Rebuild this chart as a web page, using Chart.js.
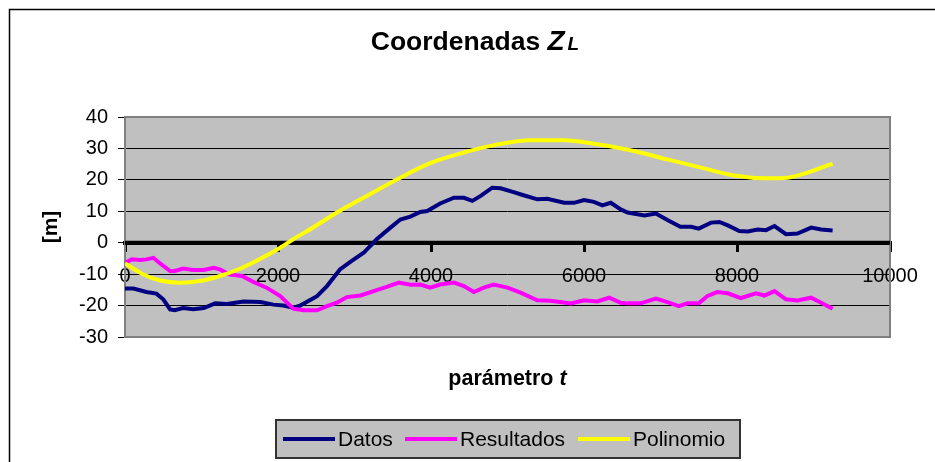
<!DOCTYPE html>
<html><head><meta charset="utf-8">
<script src="https://cdn.jsdelivr.net/npm/chart.js@4/dist/chart.umd.min.js"></script>
<style>html,body{margin:0;padding:0;background:#fff}#wrap{width:935px;height:462px;position:relative}</style>
</head><body><div id="wrap"><canvas id="c" width="935" height="462"></canvas></div>
<script>
const FONT = '"Liberation Sans", Arial, Helvetica, sans-serif';

const seriesNames = ['Datos', 'Resultados', 'Polinomio'];
const xTicks = [0, 2000, 4000, 6000, 8000, 10000];
const yTicks = [-30, -20, -10, 0, 10, 20, 30, 40];

const tDatos = [0,110,280,410,500,590,650,760,890,1030,1180,1330,1550,1770,1940,2070,2200,2290,2510,2640,2810,2950,3120,3290,3470,3600,3730,3860,3950,4120,4300,4430,4540,4650,4800,4910,5080,5210,5390,5520,5740,5870,6000,6130,6240,6350,6480,6570,6790,6940,7090,7260,7400,7500,7660,7770,7880,8030,8140,8270,8380,8490,8640,8790,8970,9100,9250];
const vDatos = [-14.6,-14.6,-15.7,-16.2,-18,-21.2,-21.5,-20.8,-21.2,-20.8,-19.3,-19.5,-18.7,-18.9,-19.7,-20,-20.7,-20,-17,-13.8,-8.5,-6,-3.2,1.1,4.8,7.4,8.3,9.8,10.1,12.5,14.3,14.3,13.3,14.9,17.5,17.3,16.1,15.1,13.8,14,12.7,12.7,13.6,13,11.9,12.7,10.6,9.6,8.7,9.3,7.2,5.1,5.1,4.5,6.4,6.6,5.5,3.7,3.6,4.2,4,5.3,2.7,2.9,4.8,4.2,3.9];

const tResultados = [0,90,200,280,370,460,590,650,760,890,1030,1160,1240,1370,1530,1680,1850,2030,2200,2330,2510,2640,2770,2900,3080,3250,3430,3580,3730,3860,3990,4120,4300,4430,4560,4690,4820,5000,5170,5390,5560,5830,6000,6170,6330,6480,6570,6740,6940,7090,7240,7350,7500,7610,7740,7880,8050,8250,8360,8490,8640,8790,8970,9100,9250];
const vResultados = [-6.4,-5.3,-5.5,-5.3,-4.8,-6.6,-9,-9,-8.2,-8.7,-8.7,-8,-8.5,-10.1,-10.6,-12.5,-14.3,-17,-21,-21.5,-21.5,-20.2,-19.1,-17.3,-16.8,-15.4,-14,-12.7,-13.4,-13.3,-14.3,-13.3,-12.7,-13.8,-15.7,-14.3,-13.3,-14.3,-15.9,-18.3,-18.5,-19.3,-18.3,-18.7,-17.5,-19.1,-19.3,-19.3,-17.8,-18.9,-20.2,-19.3,-19.3,-17,-15.7,-16.1,-17.6,-16.1,-16.8,-15.4,-18,-18.4,-17.5,-19.1,-21];

const tPolinomio = [0,240,460,720,980,1240,1510,1770,2030,2200,2470,2770,3080,3560,3990,4430,4870,5300,5740,6170,6650,7090,7530,7960,8400,8660,8920,9250];
const vPolinomio = [-6.6,-10.1,-12,-12.7,-12.2,-10.6,-8.2,-5.1,-1.6,1.1,5,9.6,13.8,20.2,25.3,28.7,31.3,32.6,32.6,31.3,29.2,26.5,23.9,21.4,20.5,20.7,22.3,25.2];

const colors = ['#000080', '#ff00ff', '#ffff00'];

function pts(ts, vs) { return ts.map((t, i) => ({ x: t, y: vs[i] })); }

const deco = {
  id: 'deco',
  beforeDraw(chart) {
    const ctx = chart.ctx, a = chart.chartArea;
    ctx.save();
    ctx.fillStyle = '#fff';
    ctx.fillRect(0, 0, chart.width, chart.height);
    ctx.strokeStyle = '#000';
    ctx.lineWidth = 1.5;
    ctx.beginPath();
    ctx.moveTo(9.5, chart.height);
    ctx.lineTo(9.5, 9.5);
    ctx.lineTo(chart.width, 9.5);
    ctx.stroke();
    ctx.fillStyle = '#c0c0c0';
    ctx.fillRect(a.left, a.top, a.right - a.left, a.bottom - a.top);
    ctx.restore();
  },
  beforeDatasetsDraw(chart) {
    const ctx = chart.ctx, a = chart.chartArea;
    ctx.save();
    ctx.strokeStyle = '#808080';
    ctx.lineWidth = 2;
    ctx.strokeRect(a.left, a.top, a.right - a.left, a.bottom - a.top);
    const y0 = chart.scales.y.getPixelForValue(0);
    ctx.strokeStyle = '#000';
    ctx.lineWidth = 4;
    ctx.beginPath();
    ctx.moveTo(a.left, y0);
    ctx.lineTo(a.right, y0);
    ctx.stroke();
    ctx.restore();
  },
  afterDraw(chart) {
    const ctx = chart.ctx, a = chart.chartArea;
    ctx.save();
    ctx.fillStyle = '#000';
    ctx.textBaseline = 'alphabetic';
    // Title
    const p1 = 'Coordenadas ', p2 = 'Z', p3 = 'L';
    const f1 = 'bold 26.5px ' + FONT, f2 = 'italic bold 28px ' + FONT, f3 = 'italic bold 19px ' + FONT;
    ctx.font = f1; const w1 = ctx.measureText(p1).width;
    ctx.font = f2; const w2 = ctx.measureText(p2).width;
    ctx.font = f3; const w3 = ctx.measureText(p3).width;
    let x = 475 - (w1 + w2 + 3 + w3) / 2;
    const by = 50;
    ctx.font = f1; ctx.textAlign = 'left'; ctx.fillText(p1, x, by); x += w1;
    ctx.font = f2; ctx.fillText(p2, x, by); x += w2 + 3;
    ctx.font = f3; ctx.fillText(p3, x, by);

    // X axis title
    const q1 = 'parámetro ', q2 = 't';
    const g1 = 'bold 21.5px ' + FONT, g2 = 'italic bold 21.5px ' + FONT;
    ctx.font = g1; const v1 = ctx.measureText(q1).width;
    ctx.font = g2; const v2 = ctx.measureText(q2).width;
    let xx = (a.left + a.right) / 2 - (v1 + v2) / 2;
    ctx.font = g1; ctx.fillText(q1, xx, 385);
    ctx.font = g2; ctx.fillText(q2, xx + v1, 385);

    // Y axis title
    ctx.save();
    ctx.translate(51, 227);
    ctx.rotate(-Math.PI / 2);
    ctx.font = 'bold 21px ' + FONT;
    ctx.textAlign = 'center';
    ctx.textBaseline = 'middle';
    ctx.fillText('[m]', 0, 0);
    ctx.restore();

    // Legend
    const L = { x: 276, y: 420, w: 464, h: 38 };
    ctx.fillStyle = '#c0c0c0';
    ctx.fillRect(L.x, L.y, L.w, L.h);
    ctx.strokeStyle = '#333';
    ctx.lineWidth = 2;
    ctx.strokeRect(L.x, L.y, L.w, L.h);
    const items = chart.data.datasets;
    const lineX = [283, 405, 578];
    const cy = L.y + L.h / 2;
    ctx.font = '21px ' + FONT;
    ctx.textBaseline = 'middle';
    ctx.textAlign = 'left';
    items.forEach((d, i) => {
      ctx.strokeStyle = d.borderColor;
      ctx.lineWidth = 4;
      ctx.beginPath();
      ctx.moveTo(lineX[i], cy);
      ctx.lineTo(lineX[i] + 52, cy);
      ctx.stroke();
      ctx.fillStyle = '#000';
      ctx.fillText(d.label, lineX[i] + 55, cy + 1);
    });
    ctx.restore();
  }
};

new Chart(document.getElementById('c'), {
  type: 'line',
  data: {
    datasets: [
      { label: seriesNames[0], data: pts(tDatos, vDatos), borderColor: colors[0], borderWidth: 4, pointRadius: 0, tension: 0, order: 2 },
      { label: seriesNames[1], data: pts(tResultados, vResultados), borderColor: colors[1], borderWidth: 4, pointRadius: 0, tension: 0, order: 1 },
      { label: seriesNames[2], data: pts(tPolinomio, vPolinomio), borderColor: colors[2], borderWidth: 4, pointRadius: 0, tension: 0.4, cubicInterpolationMode: 'monotone', order: 0 }
    ]
  },
  options: {
    responsive: false,
    devicePixelRatio: 1,
    animation: false,
    layout: { padding: { left: 0, top: 117, right: 45, bottom: 125 } },
    plugins: { legend: { display: false }, title: { display: false }, tooltip: { enabled: false } },
    scales: {
      x: {
        type: 'linear', min: 0, max: 10000,
        position: { y: 0 },
        afterFit: s => { s.height = 0; },
        afterBuildTicks: s => { s.ticks = xTicks.map(v => ({ value: v })); },
        grid: { drawOnChartArea: false, drawTicks: true, tickLength: 7, color: '#000', lineWidth: 3 },
        border: { display: true, color: '#000', width: 4 },
        ticks: { font: { family: FONT, size: 20 }, color: '#000', padding: 15, maxRotation: 0, autoSkip: false, callback: v => String(v) }
      },
      y: {
        type: 'linear', min: -30, max: 40,
        afterFit: s => { s.width = 125; },
        afterBuildTicks: s => { s.ticks = yTicks.map(v => ({ value: v })); },
        grid: { color: '#000', lineWidth: 1, tickLength: 7, drawTicks: true },
        border: { display: false },
        ticks: { font: { family: FONT, size: 20 }, color: '#000', padding: 10, callback: v => String(v) }
      }
    }
  },
  plugins: [deco]
});
</script></body></html>
